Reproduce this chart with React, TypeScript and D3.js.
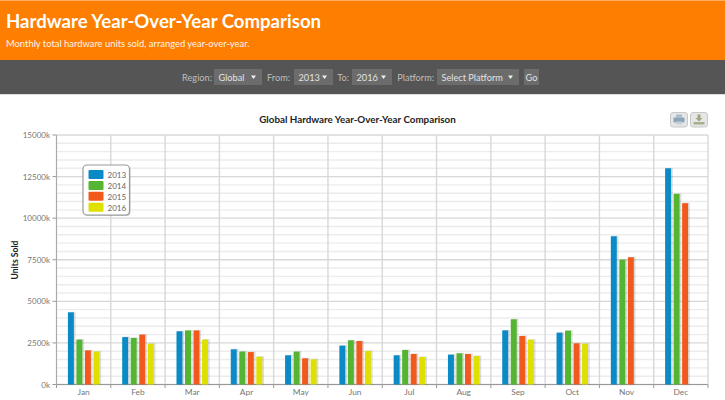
import React from 'react';
import * as d3 from 'd3';

const months = ['Jan', 'Feb', 'Mar', 'Apr', 'May', 'Jun', 'Jul', 'Aug', 'Sep', 'Oct', 'Nov', 'Dec'];
const years = ['2013', '2014', '2015', '2016'];
const colors = ['#0a8ac6', '#53b531', '#f15a1c', '#dfe000'];

const units2013 = [4340, 2850, 3200, 2115, 1755, 2335, 1755, 1795, 3255, 3115, 8910, 13000];
const units2014 = [2700, 2800, 3250, 1980, 1975, 2655, 2075, 1875, 3920, 3235, 7505, 11460];
const units2015 = [2050, 3000, 3250, 1950, 1575, 2615, 1835, 1835, 2915, 2475, 7650, 10900];
// no 2016 figures for Nov and Dec
const units2016 = [1980, 2450, 2700, 1670, 1515, 2015, 1655, 1715, 2695, 2455, null, null];
const seriesValues = [units2013, units2014, units2015, units2016];

const majorTicks = [0, 2500, 5000, 7500, 10000, 12500, 15000];
const minorTicks = d3.range(0, 15001, 500).filter(d => d % 2500 !== 0);

const fontFamily = 'Lato, sans-serif';

const margin = { top: 135, right: 17, bottom: 15.5, left: 56.5 };
const width = 725;
const height = 400;

const x = d3.scaleBand<string>()
  .domain(months)
  .range([margin.left, width - margin.right]);

const inner = d3.scaleBand<string>()
  .domain(years)
  .range([x.bandwidth() * 0.21, x.bandwidth() * 0.79])
  .paddingInner(0.3)
  .paddingOuter(0);

const y = d3.scaleLinear()
  .domain([0, 15000])
  .range([height - margin.bottom, margin.top]);

const controls = [
  { label: 'Region:', labelEnd: 212, x: 214, w: 48, value: 'Global' },
  { label: 'From:', labelEnd: 290, x: 294, w: 39, value: '2013' },
  { label: 'To:', labelEnd: 349, x: 352, w: 40, value: '2016' },
  { label: 'Platform:', labelEnd: 434, x: 437, w: 82, value: 'Select Platform' },
];

export default function App() {
  const left = margin.left;
  const right = width - margin.right;
  const top = margin.top;
  const bottom = height - margin.bottom;

  return (
    <svg
      width={width}
      height={height}
      style={{ position: 'absolute', left: 0, top: 0, background: '#fff', fontFamily }}
    >
      <rect x={0} y={0} width={width} height={60} fill="#fd7e00" />
      <rect x={0} y={0} width={width} height={1} fill="#fdb060" />
      <text x={6} y={27.5} fill="#fff" fontSize={18.6} fontWeight={700}>
        Hardware Year-Over-Year Comparison
      </text>
      <text x={6} y={47} fill="#fff" fontSize={9.4} opacity={0.92}>
        Monthly total hardware units sold, arranged year-over-year.
      </text>

      <rect x={0} y={60} width={width} height={34} fill="#555" />
      <rect x={0} y={94} width={width} height={1} fill="#ddd" />
      {controls.map(c => (
        <g key={c.label} fontSize={9.2}>
          <text x={c.labelEnd} y={80.5} textAnchor="end" fill="#bdbdbd">{c.label}</text>
          <rect x={c.x} y={69} width={c.w} height={16} fill="#6c6c6c" />
          <text x={c.x + 4.5} y={80.5} fill="#e2e2e2">{c.value}</text>
          <path
            d={`M${c.x + c.w - 11},75.5 h5 l-2.5,3.5 z`}
            fill="#eee"
          />
        </g>
      ))}
      <rect x={524} y={69} width={15} height={16} fill="#6c6c6c" />
      <text x={531.5} y={80.5} textAnchor="middle" fill="#e2e2e2" fontSize={9.2}>Go</text>

      <text x={357.5} y={122.5} textAnchor="middle" fill="#222" fontSize={9.8} fontWeight={700}>
        Global Hardware Year-Over-Year Comparison
      </text>

      <g>
        <rect x={670.5} y={112.5} width={17} height={14.5} rx={2.5} fill="#e6e6e6" stroke="#c8c8c8" />
        <rect x={676} y={114.5} width={6} height={3} fill="#a9bccb" />
        <rect x={673.5} y={117.5} width={11} height={5} rx={1} fill="#8ba4b8" />
        <rect x={676} y={121.5} width={6} height={3} fill="#c3d0da" />
        <rect x={690.5} y={112.5} width={17} height={14.5} rx={2.5} fill="#e6e6e6" stroke="#c8c8c8" />
        <path d="M697.5,114.5 h3 v3.5 h2 l-3.5,3.5 l-3.5,-3.5 h2 z" fill="#9aa77f" />
        <rect x={693.5} y={122} width={11} height={2.5} fill="#a5b08c" />
      </g>

      {minorTicks.map(t => (
        <line key={t} x1={left} x2={right} y1={y(t)} y2={y(t)} stroke="#ececec" strokeWidth={1.4} />
      ))}
      {majorTicks.map(t => (
        <g key={t}>
          <line x1={left} x2={right} y1={y(t)} y2={y(t)} stroke="#d8d8d8" strokeWidth={1.4} />
          <line x1={left - 4} x2={left} y1={y(t)} y2={y(t)} stroke="#999" />
          <text x={50} y={y(t) + 3} textAnchor="end" fill="#777" fontSize={8}>{t}k</text>
        </g>
      ))}
      {months.map(m => (
        <g key={m}>
          <line
            x1={(x(m) as number) + x.bandwidth()}
            x2={(x(m) as number) + x.bandwidth()}
            y1={top}
            y2={bottom}
            stroke="#d8d8d8"
            strokeWidth={1.4}
          />
          <line
            x1={(x(m) as number) + x.bandwidth()}
            x2={(x(m) as number) + x.bandwidth()}
            y1={bottom}
            y2={bottom + 3.5}
            stroke="#999"
          />
          <text
            x={(x(m) as number) + x.bandwidth() / 2}
            y={395}
            textAnchor="middle"
            fill="#777"
            fontSize={8.4}
          >
            {m}
          </text>
        </g>
      ))}
      <line x1={left} x2={left} y1={top} y2={bottom} stroke="#aaa" strokeWidth={1.2} />
      <line x1={left} x2={right} y1={bottom} y2={bottom} stroke="#999" strokeWidth={1.2} />
      <line x1={left} x2={left} y1={bottom} y2={bottom + 3.5} stroke="#999" />

      {seriesValues.map((values, s) => (
        <g key={years[s]}>
          {values.map((v, i) => {
            if (v === null) return null;
            const bx = (x(months[i]) as number) + (inner(years[s]) as number);
            return (
              <g key={months[i]}>
                <rect
                  x={bx + 1}
                  y={y(v) - 0.5}
                  width={inner.bandwidth() + 0.8}
                  height={bottom - y(v) + 0.5}
                  fill="#000"
                  opacity={0.13}
                />
                <rect x={bx} y={y(v)} width={inner.bandwidth()} height={bottom - y(v)} fill={colors[s]} />
              </g>
            );
          })}
        </g>
      ))}

      <text
        transform="translate(18,260) rotate(-90)"
        textAnchor="middle"
        fill="#222"
        fontSize={8.6}
        fontWeight={700}
      >
        Units Sold
      </text>

      <rect x={84} y={166} width={46.5} height={50} rx={4} fill="#000" opacity={0.22} />
      <rect x={83} y={165} width={46.5} height={50} rx={4} fill="#fff" stroke="#999" strokeWidth={1.2} />
      {years.map((yr, i) => (
        <g key={yr}>
          <rect x={88.5} y={170 + i * 10.9} width={15} height={9} rx={1} fill={colors[i]} />
          <text x={107.5} y={178.3 + i * 10.9} fill="#666" fontSize={8}>{yr}</text>
        </g>
      ))}
    </svg>
  );
}
